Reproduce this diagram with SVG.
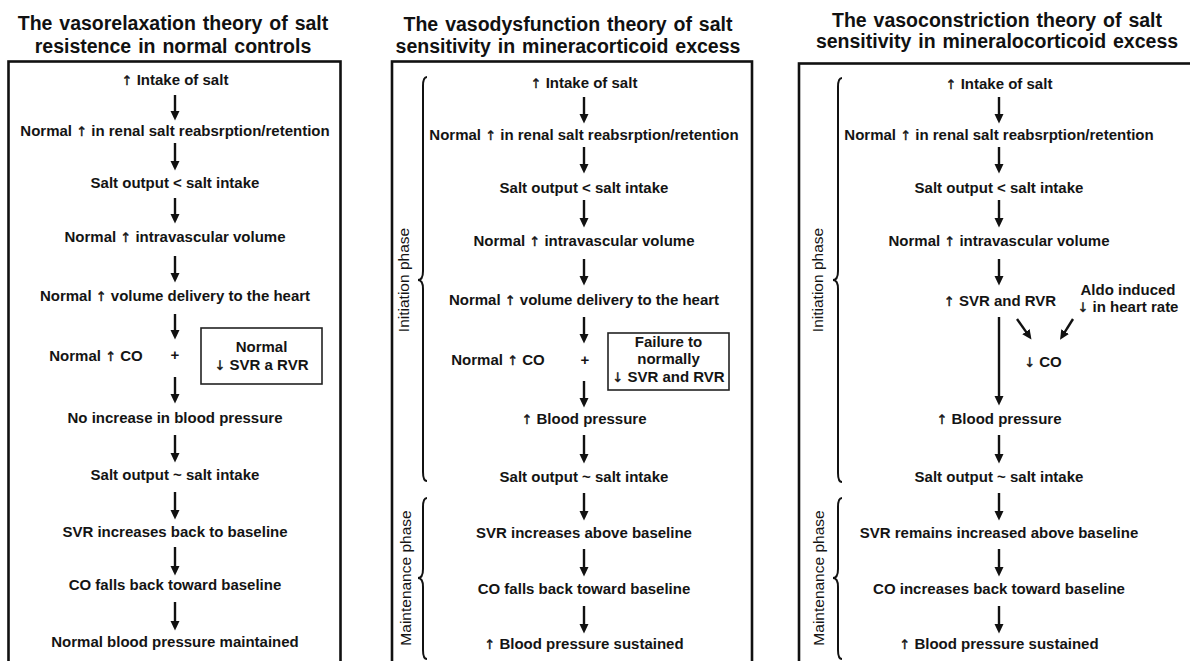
<svg xmlns="http://www.w3.org/2000/svg" width="1190" height="661" viewBox="0 0 1190 661">
<defs>
<style>
.t{font-family:"Liberation Sans",Arial,sans-serif;font-weight:bold;font-size:15px;fill:#141414;text-anchor:middle}
.a{font-family:"DejaVu Sans",sans-serif;font-weight:normal;font-size:13px;fill:#141414;stroke:#141414;stroke-width:0.4}
.h{font-family:"Liberation Sans",Arial,sans-serif;font-weight:bold;font-size:19.5px;fill:#111;text-anchor:middle;word-spacing:1.5px}
.p{font-family:"Liberation Sans",Arial,sans-serif;font-size:15.5px;fill:#141414;text-anchor:middle}
.frame{fill:none;stroke:#111;stroke-width:2.6}
.sbox{fill:none;stroke:#222;stroke-width:1.6}
.c{stroke:#111;stroke-width:2.4;fill:none;marker-end:url(#ah)}
.br{fill:none;stroke:#111;stroke-width:2}
</style>
<marker id="ah" markerWidth="11" markerHeight="10" refX="3" refY="4.5" orient="auto" markerUnits="userSpaceOnUse">
<path d="M0,0 L9.5,4.5 L0,9 z" fill="#111"/>
</marker>
</defs>
<rect width="1190" height="661" fill="#fff"/>

<!-- Panel 1 -->
<g id="panel1">
<text class="h" x="173" y="30">The vasorelaxation theory of salt</text>
<text class="h" x="173" y="53">resistence in normal controls</text>
<rect class="frame" x="8.5" y="61.5" width="332" height="620"/>
</g>
<g id="p1n1"><text class="t" x="175" y="85"><tspan class="a">↑</tspan> Intake of salt</text></g>
<g id="p1n2"><text class="t" x="175" y="136">Normal <tspan class="a">↑</tspan> in renal salt reabsrption/retention</text></g>
<g id="p1n3"><text class="t" x="175" y="188">Salt output &lt; salt intake</text></g>
<g id="p1n4"><text class="t" x="175" y="242">Normal <tspan class="a">↑</tspan> intravascular volume</text></g>
<g id="p1n5"><text class="t" x="175" y="301">Normal <tspan class="a">↑</tspan> volume delivery to the heart</text></g>
<g id="p1n6"><text class="t" x="96" y="361">Normal <tspan class="a">↑</tspan> CO</text></g>
<g id="p1plus"><text class="t" x="175" y="360">+</text></g>
<g id="p1box"><rect class="sbox" x="201" y="328" width="121" height="56"/>
<text class="t" x="261.5" y="352">Normal</text>
<text class="t" x="261.5" y="370"><tspan class="a">↓</tspan> SVR a RVR</text></g>
<g id="p1n7"><text class="t" x="175" y="423">No increase in blood pressure</text></g>
<g id="p1n8"><text class="t" x="175" y="480">Salt output ~ salt intake</text></g>
<g id="p1n9"><text class="t" x="175" y="537">SVR increases back to baseline</text></g>
<g id="p1n10"><text class="t" x="175" y="590">CO falls back toward baseline</text></g>
<g id="p1n11"><text class="t" x="175" y="647">Normal blood pressure maintained</text></g>

<!-- Panel 2 -->
<g id="panel2">
<text class="h" x="568" y="31">The vasodysfunction theory of salt</text>
<text class="h" x="568" y="53">sensitivity in mineracorticoid excess</text>
<rect class="frame" x="392" y="61.5" width="360" height="620"/>
<path class="br" d="M427,77 Q423,77 423,86 L423,271 Q423,280 418,280 Q423,280 423,289 L423,472 Q423,481 427,481"/>
<text class="p" transform="translate(409,280) rotate(-90)">Initiation phase</text>
<path class="br" d="M427,498 Q423,498 423,507 L423,569 Q423,578 418,578 Q423,578 423,587 L423,650 Q423,659 427,659"/>
<text class="p" transform="translate(411,578) rotate(-90)">Maintenance phase</text>
</g>
<g id="p2n1"><text class="t" x="584" y="88"><tspan class="a">↑</tspan> Intake of salt</text></g>
<g id="p2n2"><text class="t" x="584" y="140">Normal <tspan class="a">↑</tspan> in renal salt reabsrption/retention</text></g>
<g id="p2n3"><text class="t" x="584" y="193">Salt output &lt; salt intake</text></g>
<g id="p2n4"><text class="t" x="584" y="246">Normal <tspan class="a">↑</tspan> intravascular volume</text></g>
<g id="p2n5"><text class="t" x="584" y="305">Normal <tspan class="a">↑</tspan> volume delivery to the heart</text></g>
<g id="p2n6"><text class="t" x="498" y="365">Normal <tspan class="a">↑</tspan> CO</text></g>
<g id="p2plus"><text class="t" x="585" y="365">+</text></g>
<g id="p2box"><rect class="sbox" x="608" y="333" width="121" height="57"/>
<text class="t" x="668.5" y="347">Failure to</text>
<text class="t" x="668.5" y="364">normally</text>
<text class="t" x="668.5" y="382"><tspan class="a">↓</tspan> SVR and RVR</text></g>
<g id="p2n7"><text class="t" x="584" y="424"><tspan class="a">↑</tspan> Blood pressure</text></g>
<g id="p2n8"><text class="t" x="584" y="482">Salt output ~ salt intake</text></g>
<g id="p2n9"><text class="t" x="584" y="538">SVR increases above baseline</text></g>
<g id="p2n10"><text class="t" x="584" y="594">CO falls back toward baseline</text></g>
<g id="p2n11"><text class="t" x="584" y="649"><tspan class="a">↑</tspan> Blood pressure sustained</text></g>

<!-- Panel 3 -->
<g id="panel3">
<text class="h" x="997" y="27">The vasoconstriction theory of salt</text>
<text class="h" x="997" y="48">sensitivity in mineralocorticoid excess</text>
<rect class="frame" x="799" y="63.5" width="400" height="620"/>
<path class="br" d="M842,78 Q838,78 838,87 L838,271 Q838,280 833,280 Q838,280 838,289 L838,473 Q838,482 842,482"/>
<text class="p" transform="translate(823,280) rotate(-90)">Initiation phase</text>
<path class="br" d="M842,498 Q838,498 838,507 L838,569 Q838,578 833,578 Q838,578 838,587 L838,650 Q838,659 842,659"/>
<text class="p" transform="translate(824,578) rotate(-90)">Maintenance phase</text>
</g>
<g id="p3n1"><text class="t" x="999" y="89"><tspan class="a">↑</tspan> Intake of salt</text></g>
<g id="p3n2"><text class="t" x="999" y="140">Normal <tspan class="a">↑</tspan> in renal salt reabsrption/retention</text></g>
<g id="p3n3"><text class="t" x="999" y="193">Salt output &lt; salt intake</text></g>
<g id="p3n4"><text class="t" x="999" y="246">Normal <tspan class="a">↑</tspan> intravascular volume</text></g>
<g id="p3n5"><text class="t" x="1000" y="306"><tspan class="a">↑</tspan> SVR and RVR</text></g>
<g id="p3aldo"><text class="t" x="1128" y="295">Aldo induced</text>
<text class="t" x="1128" y="312"><tspan class="a">↓</tspan> in heart rate</text></g>
<g id="p3co"><text class="t" x="1043" y="367"><tspan class="a">↓</tspan> CO</text></g>
<g id="p3n6"><text class="t" x="999" y="424"><tspan class="a">↑</tspan> Blood pressure</text></g>
<g id="p3n7"><text class="t" x="999" y="482">Salt output ~ salt intake</text></g>
<g id="p3n8"><text class="t" x="999" y="538">SVR remains increased above baseline</text></g>
<g id="p3n9"><text class="t" x="999" y="594">CO increases back toward baseline</text></g>
<g id="p3n10"><text class="t" x="999" y="649"><tspan class="a">↑</tspan> Blood pressure sustained</text></g>

<g id="connectors">
<path class="c" d="M175,95 V114"/>
<path class="c" d="M175,143 V164"/>
<path class="c" d="M175,198 V217"/>
<path class="c" d="M175,256 V276"/>
<path class="c" d="M175,314 V333"/>
<path class="c" d="M175,377 V397"/>
<path class="c" d="M175,435 V456"/>
<path class="c" d="M175,492 V513"/>
<path class="c" d="M175,547 V569"/>
<path class="c" d="M175,602 V624"/>

<path class="c" d="M584,97 V117"/>
<path class="c" d="M584,147 V167"/>
<path class="c" d="M584,200 V221"/>
<path class="c" d="M584,259 V279"/>
<path class="c" d="M584,317 V337"/>
<path class="c" d="M584,381 V401"/>
<path class="c" d="M584,435 V457"/>
<path class="c" d="M584,493 V514"/>
<path class="c" d="M584,549 V570"/>
<path class="c" d="M584,606 V627"/>

<path class="c" d="M999,97 V117"/>
<path class="c" d="M999,147 V167"/>
<path class="c" d="M999,200 V221"/>
<path class="c" d="M999,259 V279"/>
<path class="c" d="M999,317 V399"/>
<path class="c" d="M1017,319 L1027.7,334.1"/>
<path class="c" d="M1073,319 L1063.5,334.2"/>
<path class="c" d="M999,435 V457"/>
<path class="c" d="M999,493 V514"/>
<path class="c" d="M999,549 V570"/>
<path class="c" d="M999,606 V627"/>
</g>
</svg>
